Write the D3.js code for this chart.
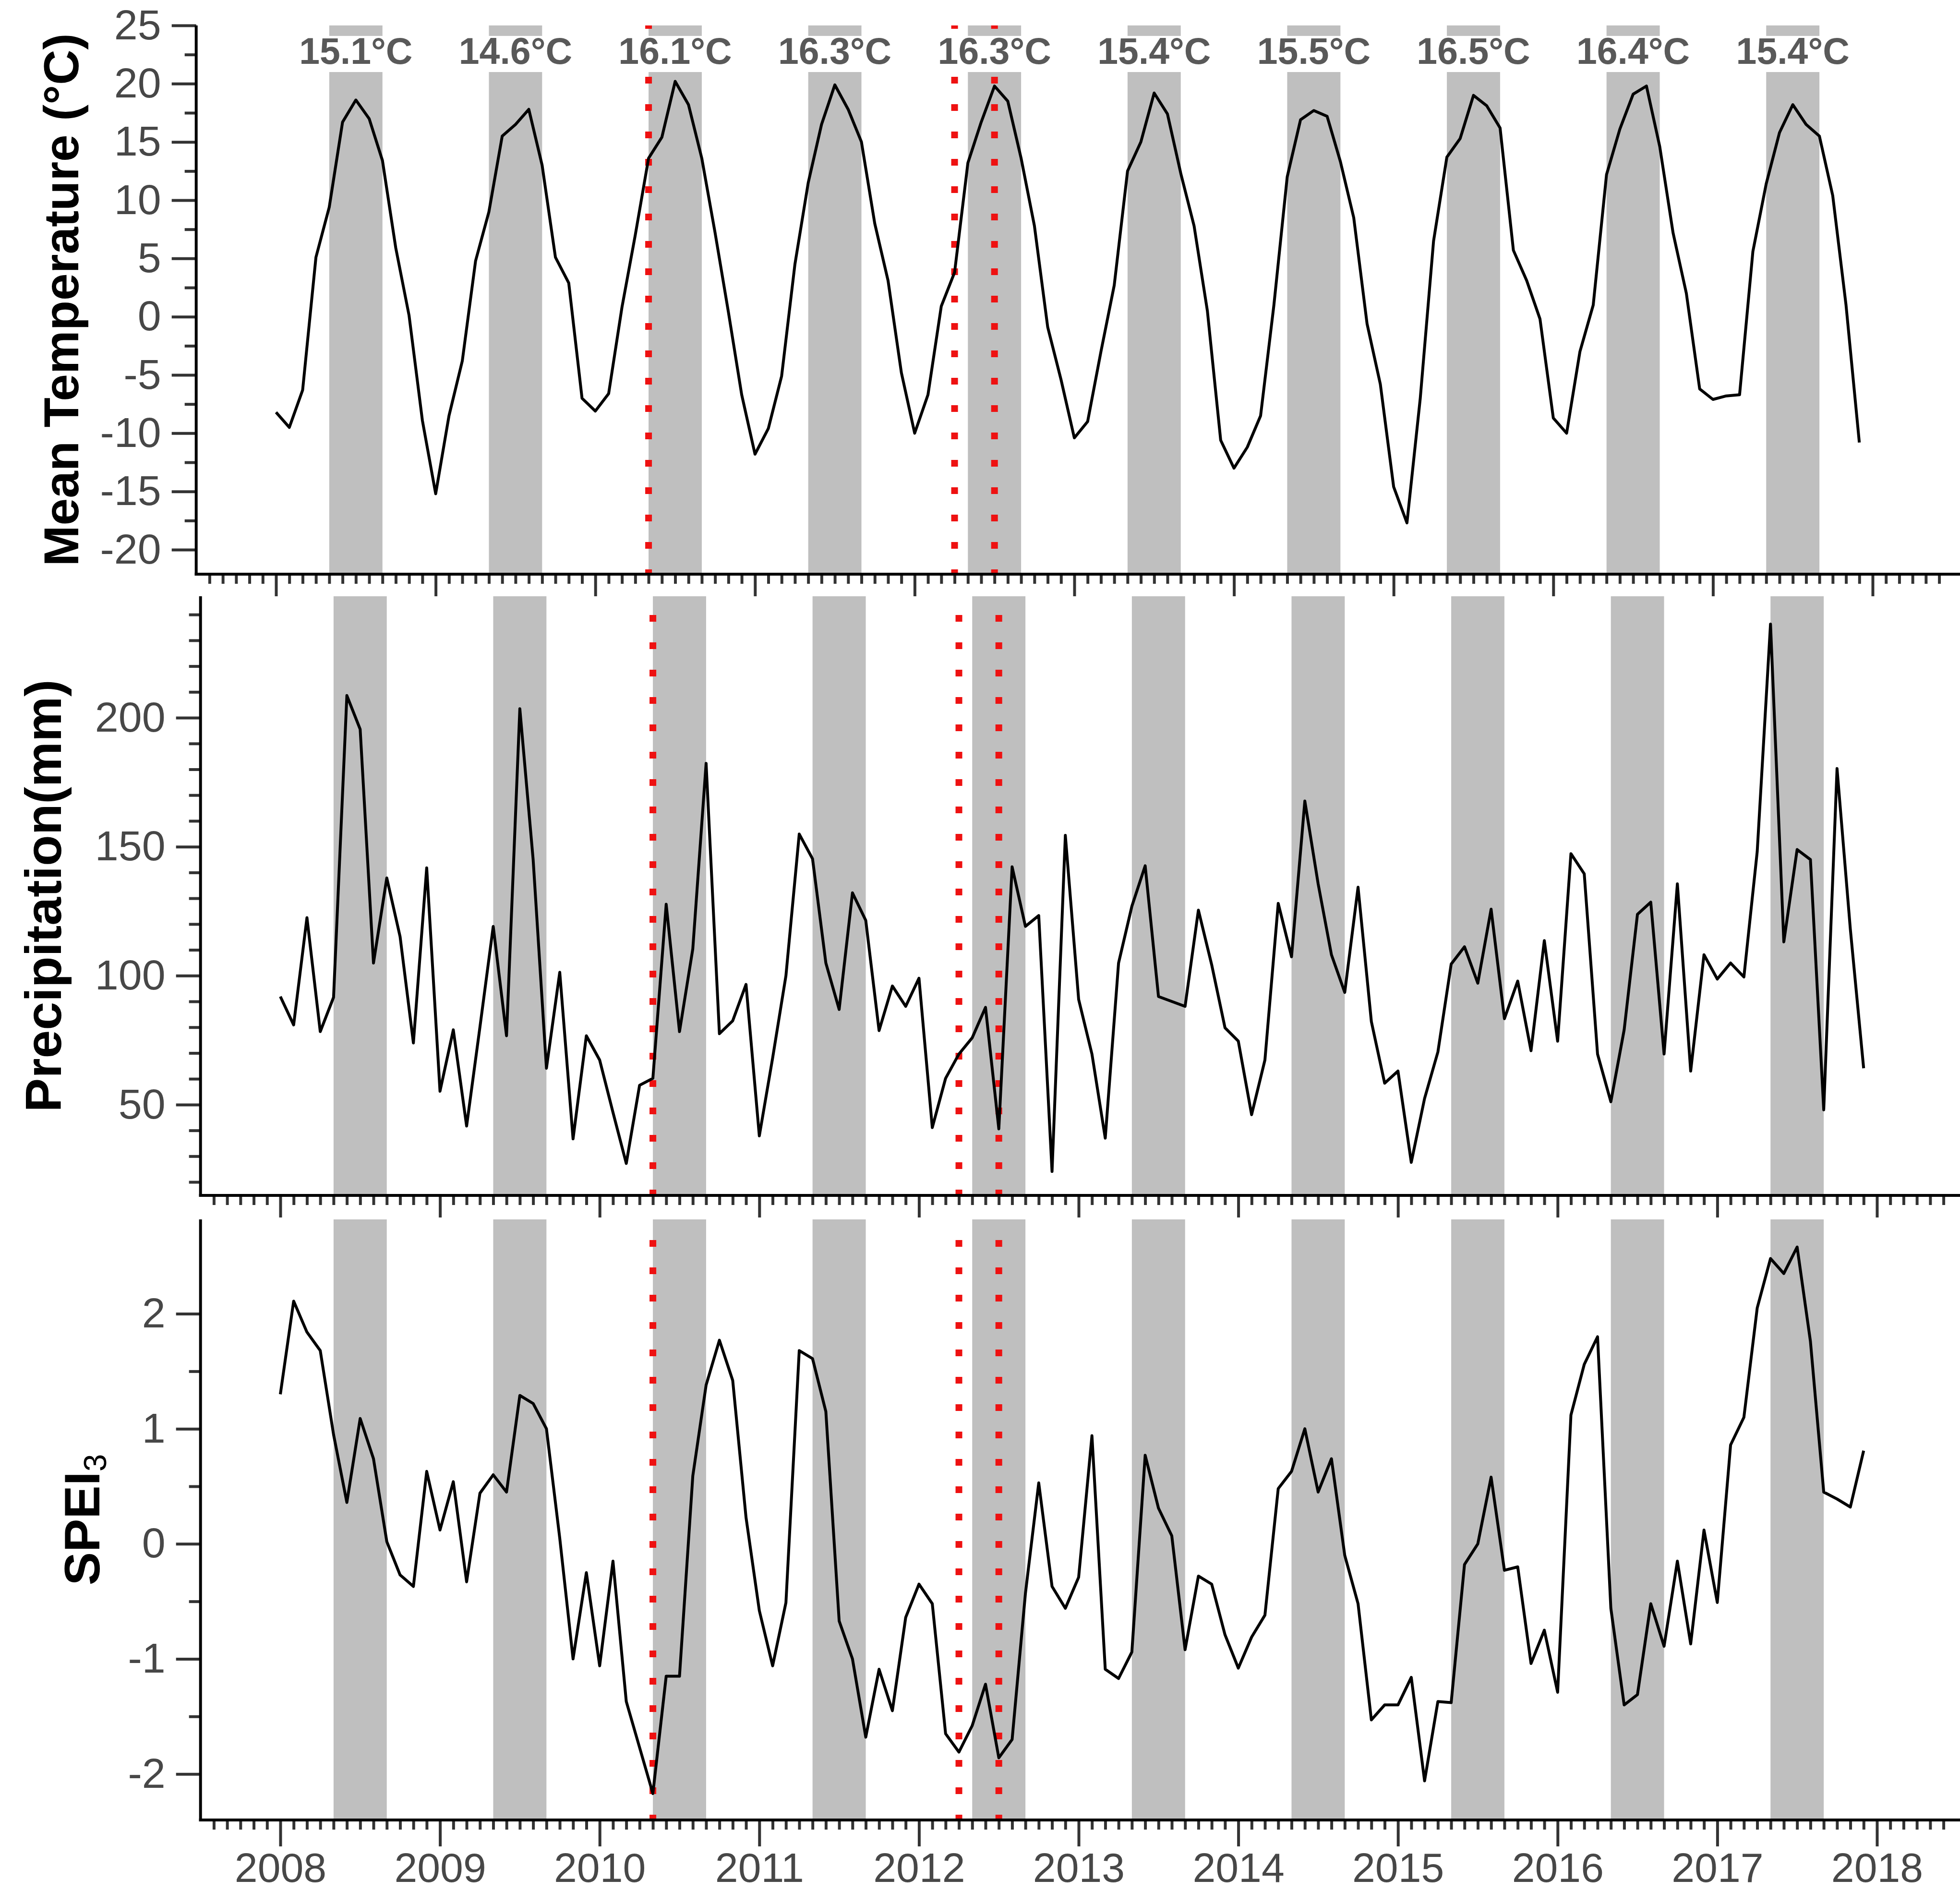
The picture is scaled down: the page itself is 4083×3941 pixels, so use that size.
<!DOCTYPE html>
<html>
<head>
<meta charset="utf-8">
<title>Mean temperature, precipitation and SPEI3, 2008-2017</title>
<script src="https://cdn.jsdelivr.net/npm/d3@7"></script>
<style>
  body { margin: 0; background: #fff; }
  svg { display: block; font-family: "Liberation Sans", Arial, sans-serif; }
</style>
</head>
<body>
<div id="chart"></div>
<script>
// monthly values, Jan 2008 .. Dec 2017, one row per year
var temperature = [
  -8.2, -9.5, -6.3, 5.1, 9.4, 16.7, 18.6, 17.0, 13.4, 5.9, 0.1, -8.9,
  -15.2, -8.5, -3.8, 4.8, 9.0, 15.5, 16.5, 17.8, 13.0, 5.1, 2.9, -7.0,
  -8.1, -6.6, 0.8, 7.0, 13.6, 15.4, 20.2, 18.2, 13.6, 7.2, 0.4, -6.7,
  -11.8, -9.6, -5.1, 4.5, 11.5, 16.5, 19.9, 17.8, 15.0, 8.0, 3.1, -4.8,
  -10.0, -6.7, 0.9, 3.8, 13.2, 16.7, 19.8, 18.5, 13.6, 7.8, -0.9, -5.4,
  -10.4, -9.0, -3.0, 2.7, 12.5, 15.0, 19.2, 17.4, 12.3, 7.8, 0.5, -10.6,
  -13.0, -11.2, -8.5, 1.0, 12.0, 16.9, 17.7, 17.2, 13.3, 8.5, -0.6, -5.8,
  -14.6, -17.7, -7.0, 6.5, 13.7, 15.3, 19.0, 18.1, 16.2, 5.7, 3.1, -0.2,
  -8.7, -10.0, -3.0, 1.0, 12.2, 16.1, 19.1, 19.8, 14.6, 7.2, 2.0, -6.2,
  -7.1, -6.8, -6.7, 5.6, 11.4, 15.8, 18.2, 16.5, 15.5, 10.4, 1.0, -10.8
];

var precipitation = [
  91.9, 80.9, 122.5, 78.3, 91.6, 208.6, 195.5, 104.9, 137.9, 115.1, 73.9, 141.8,
  55.2, 79.0, 41.7, 80.0, 119.1, 76.7, 203.5, 145.0, 64.1, 101.3, 36.7, 76.7,
  67.3, 47.0, 27.2, 57.5, 60.2, 127.7, 78.3, 110.4, 182.3, 77.5, 82.5, 96.6,
  37.9, 68.1, 100.0, 154.9, 145.3, 104.9, 86.9, 132.1, 121.4, 78.7, 96.0, 88.1,
  99.0, 41.1, 60.2, 69.6, 75.9, 87.7, 40.6, 142.2, 119.1, 123.3, 24.1, 154.4,
  90.8, 69.6, 37.0, 104.9, 126.9, 142.6, 91.9, 90.0, 88.1, 125.4, 104.2, 79.8,
  74.6, 46.1, 67.3, 128.0, 107.3, 167.7, 135.6, 108.1, 93.5, 134.3, 82.2, 58.3,
  63.0, 27.6, 52.4, 70.4, 104.5, 111.2, 97.1, 125.8, 83.3, 97.9, 70.9, 113.6,
  74.6, 147.3, 139.5, 69.6, 51.1, 79.0, 123.8, 128.5, 69.6, 135.6, 63.0, 108.1,
  98.7, 104.9, 99.5, 148.1, 236.3, 113.1, 148.9, 145.0, 48.0, 180.3, 118.0, 64.1
];

var spei = [
  1.30, 2.11, 1.84, 1.68, 0.95, 0.36, 1.09, 0.74, 0.02, -0.27, -0.37, 0.63,
  0.12, 0.54, -0.33, 0.44, 0.60, 0.45, 1.29, 1.22, 1.00, 0.05, -1.00, -0.25,
  -1.06, -0.15, -1.37, -1.77, -2.17, -1.15, -1.15, 0.59, 1.38, 1.77, 1.42, 0.23,
  -0.58, -1.06, -0.51, 1.68, 1.61, 1.15, -0.67, -1.00, -1.68, -1.09, -1.45, -0.64,
  -0.35, -0.52, -1.65, -1.81, -1.58, -1.22, -1.86, -1.70, -0.43, 0.53, -0.37, -0.56,
  -0.29, 0.94, -1.09, -1.17, -0.94, 0.77, 0.31, 0.07, -0.92, -0.28, -0.35, -0.79,
  -1.08, -0.81, -0.62, 0.48, 0.63, 1.00, 0.45, 0.74, -0.10, -0.52, -1.53, -1.40,
  -1.40, -1.16, -2.06, -1.37, -1.38, -0.18, 0.00, 0.58, -0.23, -0.20, -1.04, -0.75,
  -1.29, 1.12, 1.56, 1.80, -0.56, -1.40, -1.31, -0.52, -0.89, -0.15, -0.87, 0.12,
  -0.51, 0.86, 1.10, 2.05, 2.48, 2.35, 2.58, 1.76, 0.45, 0.39, 0.32, 0.81
];

var years = [2008, 2009, 2010, 2011, 2012, 2013, 2014, 2015, 2016, 2017];
// mean temperature of the growing season (May-Aug) of each year
var seasonTemp = [15.1, 14.6, 16.1, 16.3, 16.3, 15.4, 15.5, 16.5, 16.4, 15.4];
var yearTicks = [2008, 2009, 2010, 2011, 2012, 2013, 2014, 2015, 2016, 2017, 2018];
// red dotted event lines (decimal years)
var eventDates = [2010 + 4 / 12, 2012 + 3 / 12, 2012 + 6 / 12];

var W = 4083, H = 3941;
var svg = d3.select("#chart").append("svg")
  .attr("width", W).attr("height", H);

// x position of each monthly value
var months = temperature.map(function (d, i) { return 2008 + i / 12; });
var minorMonths = d3.range(-5, 126).filter(function (k) { return k % 12 !== 0; })
  .map(function (k) { return 2008 + k / 12; });

var panels = [
  {
    values: temperature, x0: 408.7, x1: 4067.3, top: 53, bottom: 1196,
    domain: [-22.1, 25], major: d3.range(-20, 26, 5), minor: d3.range(-17.5, 25, 5),
    title: "Mean Temperature (°C)", titleX: 163, titleSize: 102, xMajor: 46,
    dashOffset: 7, labels: true
  },
  {
    values: precipitation, x0: 417.7, x1: 4076.3, top: 1242, bottom: 2490,
    domain: [14.8, 247.1], major: [50, 100, 150, 200],
    minor: d3.range(20, 241, 10).filter(function (v) { return v % 50 !== 0; }),
    title: "Precipitation(mm)", titleX: 127, titleSize: 106, xMajor: 46,
    dashOffset: 18
  },
  {
    values: spei, x0: 417.7, x1: 4076.3, top: 2540, bottom: 3791,
    domain: [-2.4, 2.82], major: [-2, -1, 0, 1, 2], minor: [-1.5, -0.5, 0.5, 1.5],
    title: "SPEI", sub: "3", titleX: 207, titleSize: 104, xMajor: 55,
    dashOffset: 14, xLabels: true
  }
];

// plain hyphen for negatives, as in the original figure
function plain(d) { return String(d); }

function styleAxis(g, fontSize) {
  g.select(".domain").remove();
  g.selectAll(".tick line").attr("stroke", "#333").attr("stroke-width", 6);
  g.selectAll(".tick text")
    .attr("fill", "#474747")
    .style("font-size", fontSize + "px")
    .style("font-family", '"Liberation Sans", Arial, sans-serif');
}

panels.forEach(function (p) {
  var x = d3.scaleLinear().domain([2007.5, 2018.5]).range([p.x0, p.x1]);
  var y = d3.scaleLinear().domain(p.domain).range([p.bottom, p.top]);
  var g = svg.append("g");

  // growing season bands
  g.selectAll("rect.season").data(years).enter().append("rect")
    .attr("class", "season")
    .attr("x", function (d) { return x(d + 4 / 12); })
    .attr("width", function (d) { return x(d + 8 / 12) - x(d + 4 / 12); })
    .attr("y", p.top)
    .attr("height", p.bottom - p.top)
    .attr("fill", "#bfbfbf");

  // event lines
  g.selectAll("line.event").data(eventDates).enter().append("line")
    .attr("class", "event")
    .attr("x1", function (d) { return x(d); })
    .attr("x2", function (d) { return x(d); })
    .attr("y1", p.top).attr("y2", p.bottom)
    .attr("stroke", "#ee1111")
    .attr("stroke-width", 14)
    .attr("stroke-dasharray", "14,43")
    .attr("stroke-dashoffset", p.dashOffset);

  // seasonal temperature labels on a white strip
  if (p.labels) {
    years.forEach(function (yr, i) {
      var cx = x(yr + 0.5);
      g.append("rect")
        .attr("x", cx - 125).attr("width", 250)
        .attr("y", y(24.1)).attr("height", y(21) - y(24.1))
        .attr("fill", "#fff");
      g.append("text")
        .attr("x", cx).attr("y", 133)
        .attr("text-anchor", "middle")
        .attr("fill", "#595959")
        .style("font-size", "77px")
        .style("font-weight", "bold")
        .text(seasonTemp[i].toFixed(1) + "°C");
    });
  }

  // data line
  var line = d3.line()
    .x(function (d, i) { return x(months[i]); })
    .y(function (d) { return y(d); });
  g.append("path")
    .datum(p.values)
    .attr("d", line)
    .attr("fill", "none")
    .attr("stroke", "#000")
    .attr("stroke-width", 6)
    .attr("stroke-linejoin", "round");

  // y axis
  var yMinor = g.append("g").attr("transform", "translate(" + p.x0 + ",0)")
    .call(d3.axisLeft(y).tickValues(p.minor).tickSize(24).tickFormat(""));
  styleAxis(yMinor, 88);
  var yMajor = g.append("g").attr("transform", "translate(" + p.x0 + ",0)")
    .call(d3.axisLeft(y).tickValues(p.major).tickSize(51).tickPadding(22)
      .tickFormat(plain));
  styleAxis(yMajor, 88);

  // x axis
  var xMinor = g.append("g").attr("transform", "translate(0," + p.bottom + ")")
    .call(d3.axisBottom(x).tickValues(minorMonths).tickSize(20).tickFormat(""));
  styleAxis(xMinor, 86);
  var xMajor = g.append("g").attr("transform", "translate(0," + p.bottom + ")")
    .call(d3.axisBottom(x).tickValues(yearTicks).tickSize(p.xMajor).tickPadding(13)
      .tickFormat(p.xLabels ? plain : ""));
  styleAxis(xMajor, 86);

  // axis lines
  g.append("line")
    .attr("x1", p.x0).attr("x2", p.x0)
    .attr("y1", p.top).attr("y2", p.bottom + 3)
    .attr("stroke", "#000").attr("stroke-width", 6);
  g.append("line")
    .attr("x1", p.x0 - 3).attr("x2", W)
    .attr("y1", p.bottom).attr("y2", p.bottom)
    .attr("stroke", "#000").attr("stroke-width", 6);

  // axis title
  var t = g.append("text")
    .attr("transform", "translate(" + p.titleX + "," + (p.top + p.bottom) / 2 + ") rotate(-90)")
    .attr("text-anchor", "middle")
    .attr("fill", "#000")
    .style("font-size", p.titleSize + "px")
    .style("font-weight", "bold")
    .text(p.title);
  if (p.sub) {
    t.append("tspan")
      .attr("dy", 14)
      .style("font-size", "66px")
      .style("font-weight", "normal")
      .text(p.sub);
  }
});
</script>
</body>
</html>
